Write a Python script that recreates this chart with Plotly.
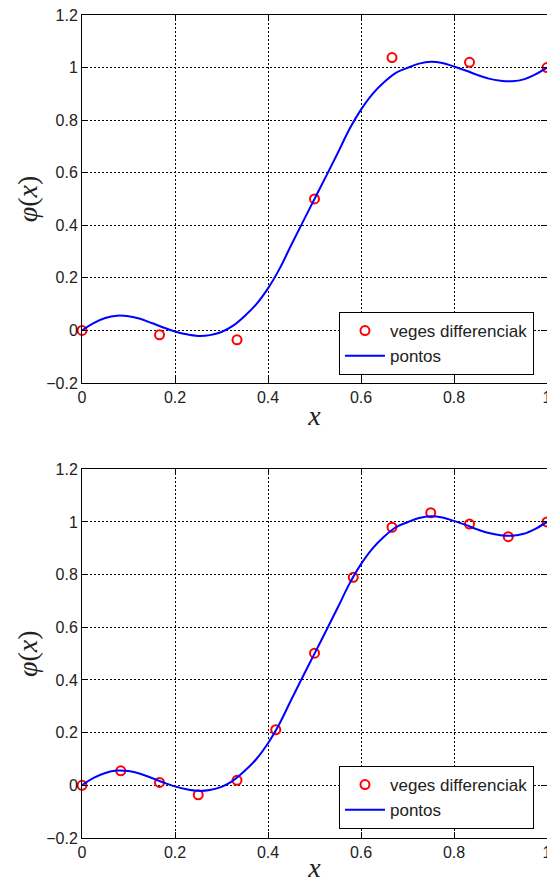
import plotly.graph_objects as go

# exact solution curve ("pontos")
curve_x = [0.000, 0.025, 0.050, 0.075, 0.100, 0.125, 0.150, 0.175, 0.200, 0.225,
           0.250, 0.275, 0.300, 0.325, 0.350, 0.375, 0.400, 0.425, 0.450, 0.475,
           0.500, 0.525, 0.550, 0.575, 0.600, 0.625, 0.650, 0.675, 0.700, 0.725,
           0.750, 0.775, 0.800, 0.825, 0.850, 0.875, 0.900, 0.925, 0.950, 0.975, 1.000]
curve_y = [0.000, 0.028, 0.047, 0.056, 0.054, 0.044, 0.028, 0.011, -0.004, -0.015,
           -0.021, -0.018, -0.006, 0.018, 0.055, 0.100, 0.160, 0.235, 0.325, 0.413,
           0.500, 0.587, 0.675, 0.765, 0.840, 0.900, 0.945, 0.980, 0.999, 1.015,
           1.022, 1.017, 1.004, 0.989, 0.972, 0.958, 0.950, 0.948, 0.955, 0.974, 1.000]

# finite-difference points, coarse grid (top)
fd1_x = [0, 1/6, 2/6, 3/6, 4/6, 5/6, 1]
fd1_y = [0.000, -0.017, -0.036, 0.500, 1.038, 1.020, 1.000]

# finite-difference points, fine grid (bottom)
fd2_x = [0, 1/12, 2/12, 3/12, 4/12, 5/12, 6/12, 7/12, 8/12, 9/12, 10/12, 11/12, 1]
fd2_y = [0.000, 0.055, 0.011, -0.036, 0.019, 0.211, 0.502, 0.790, 0.980, 1.035, 0.992, 0.944, 1.000]

x_ticks = [0, 0.2, 0.4, 0.6, 0.8, 1]
y_ticks = [-0.2, 0, 0.2, 0.4, 0.6, 0.8, 1, 1.2]

name_fd = "veges differenciak"
name_exact = "pontos"

FONT = "Liberation Sans, Arial, Helvetica, sans-serif"
SERIF = "Liberation Serif, DejaVu Serif, serif"

fig = go.Figure()

for i, (fx, fy) in enumerate([(fd1_x, fd1_y), (fd2_x, fd2_y)]):
    xa = "x" if i == 0 else "x2"
    ya = "y" if i == 0 else "y2"
    lg = "legend" if i == 0 else "legend2"
    fig.add_trace(go.Scatter(
        x=fx, y=fy, mode="markers", name=name_fd, xaxis=xa, yaxis=ya, legend=lg,
        marker=dict(symbol="circle-open", size=9, color="#ff0000", line=dict(width=2, color="#ff0000")),
        cliponaxis=False,
    ))
    fig.add_trace(go.Scatter(
        x=curve_x, y=curve_y, mode="lines", name=name_exact, xaxis=xa, yaxis=ya, legend=lg,
        line=dict(color="#0000ff", width=2, shape="spline", smoothing=1.0),
    ))

axis_common = dict(
    showline=True, linecolor="black", linewidth=1, mirror="ticks",
    ticks="inside", ticklen=6, tickcolor="black",
    showgrid=True, gridcolor="black", griddash="2px,2px", gridwidth=1,
    zeroline=False,
    tickfont=dict(family=FONT, size=16, color="#222222"),
)

xax = dict(axis_common, range=[0, 1], tickvals=x_ticks, ticklabeloverflow="allow", automargin=False,
           title=dict(text="<i>x</i>", font=dict(family=SERIF, size=28, color="#222222"), standoff=0))
yax = dict(axis_common, range=[-0.2, 1.2], tickvals=y_ticks,
           title=dict(text="<i>φ</i>(<i>x</i>)", font=dict(family=SERIF, size=28, color="#222222"), standoff=0))

legend_common = dict(
    xref="paper", yref="paper", xanchor="right", yanchor="bottom",
    bgcolor="white", bordercolor="black", borderwidth=1,
    font=dict(family=FONT, size=17, color="#222222"),
    tracegroupgap=0, itemwidth=40,
)

fig.update_layout(
    width=547, height=883,
    margin=dict(l=82, r=0, t=15, b=45),
    paper_bgcolor="white", plot_bgcolor="white",
    showlegend=True,
    xaxis=dict(xax, domain=[0, 1], anchor="y"),
    yaxis=dict(yax, domain=[0.5529, 1.0], anchor="x"),
    xaxis2=dict(xax, domain=[0, 1], anchor="y2"),
    yaxis2=dict(yax, domain=[0.0, 0.448], anchor="x2"),
    legend=dict(legend_common, x=0.972, y=0.5626),
    legend2=dict(legend_common, x=0.972, y=0.0109),
)

fig.write_html("out.html")
